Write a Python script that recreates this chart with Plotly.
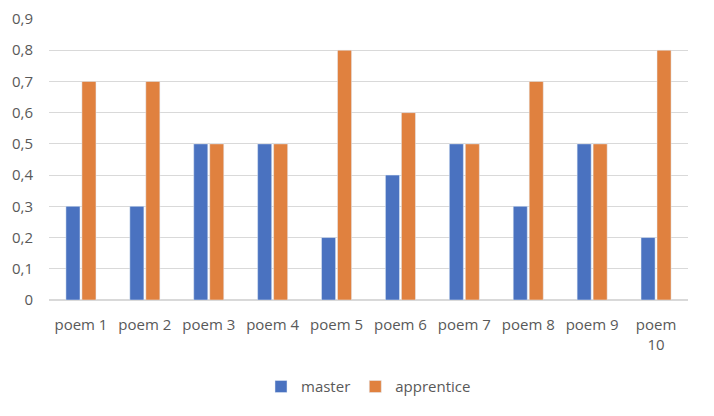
import plotly.graph_objects as go

categories = ["poem 1", "poem 2", "poem 3", "poem 4", "poem 5", "poem 6", "poem 7", "poem 8", "poem 9", "poem<br>10"]
master = [0.3, 0.3, 0.5, 0.5, 0.2, 0.4, 0.5, 0.3, 0.5, 0.2]
apprentice = [0.7, 0.7, 0.5, 0.5, 0.8, 0.6, 0.5, 0.7, 0.5, 0.8]
y_tickvals = [0, 0.1, 0.2, 0.3, 0.4, 0.5, 0.6, 0.7, 0.8, 0.9]
y_ticktext = ["0", "0,1", "0,2", "0,3", "0,4", "0,5", "0,6", "0,7", "0,8", "0,9"]

fig = go.Figure()
fig.add_trace(go.Bar(name="master", x=categories, y=master, marker_color="#4A72C0"))
fig.add_trace(go.Bar(name="apprentice", x=categories, y=apprentice, marker_color="#E0813F"))

fig.update_layout(
    width=698, height=400,
    margin=dict(l=41, r=18, t=11, b=108, autoexpand=False),
    barmode="group", bargap=0.5, bargroupgap=0.12,
    plot_bgcolor="white", paper_bgcolor="white",
    font=dict(family="Open Sans", size=15, color="#595959"),
    showlegend=True,
    legend=dict(orientation="h", x=0.5, xanchor="center", y=-0.25, yanchor="top",
                font=dict(size=15, color="#595959"), itemwidth=30),
)
fig.update_yaxes(range=[0, 0.9], tickvals=y_tickvals, ticktext=y_ticktext, automargin=False,
                 showgrid=True, gridcolor="#D9D9D9", gridwidth=1,
                 zeroline=True, zerolinecolor="#D9D9D9", ticks="", ticklabelstandoff=15)
fig.update_xaxes(showline=False, ticks="", tickangle=0, ticklabelstandoff=14, automargin=False)

fig.write_html("out.html")
